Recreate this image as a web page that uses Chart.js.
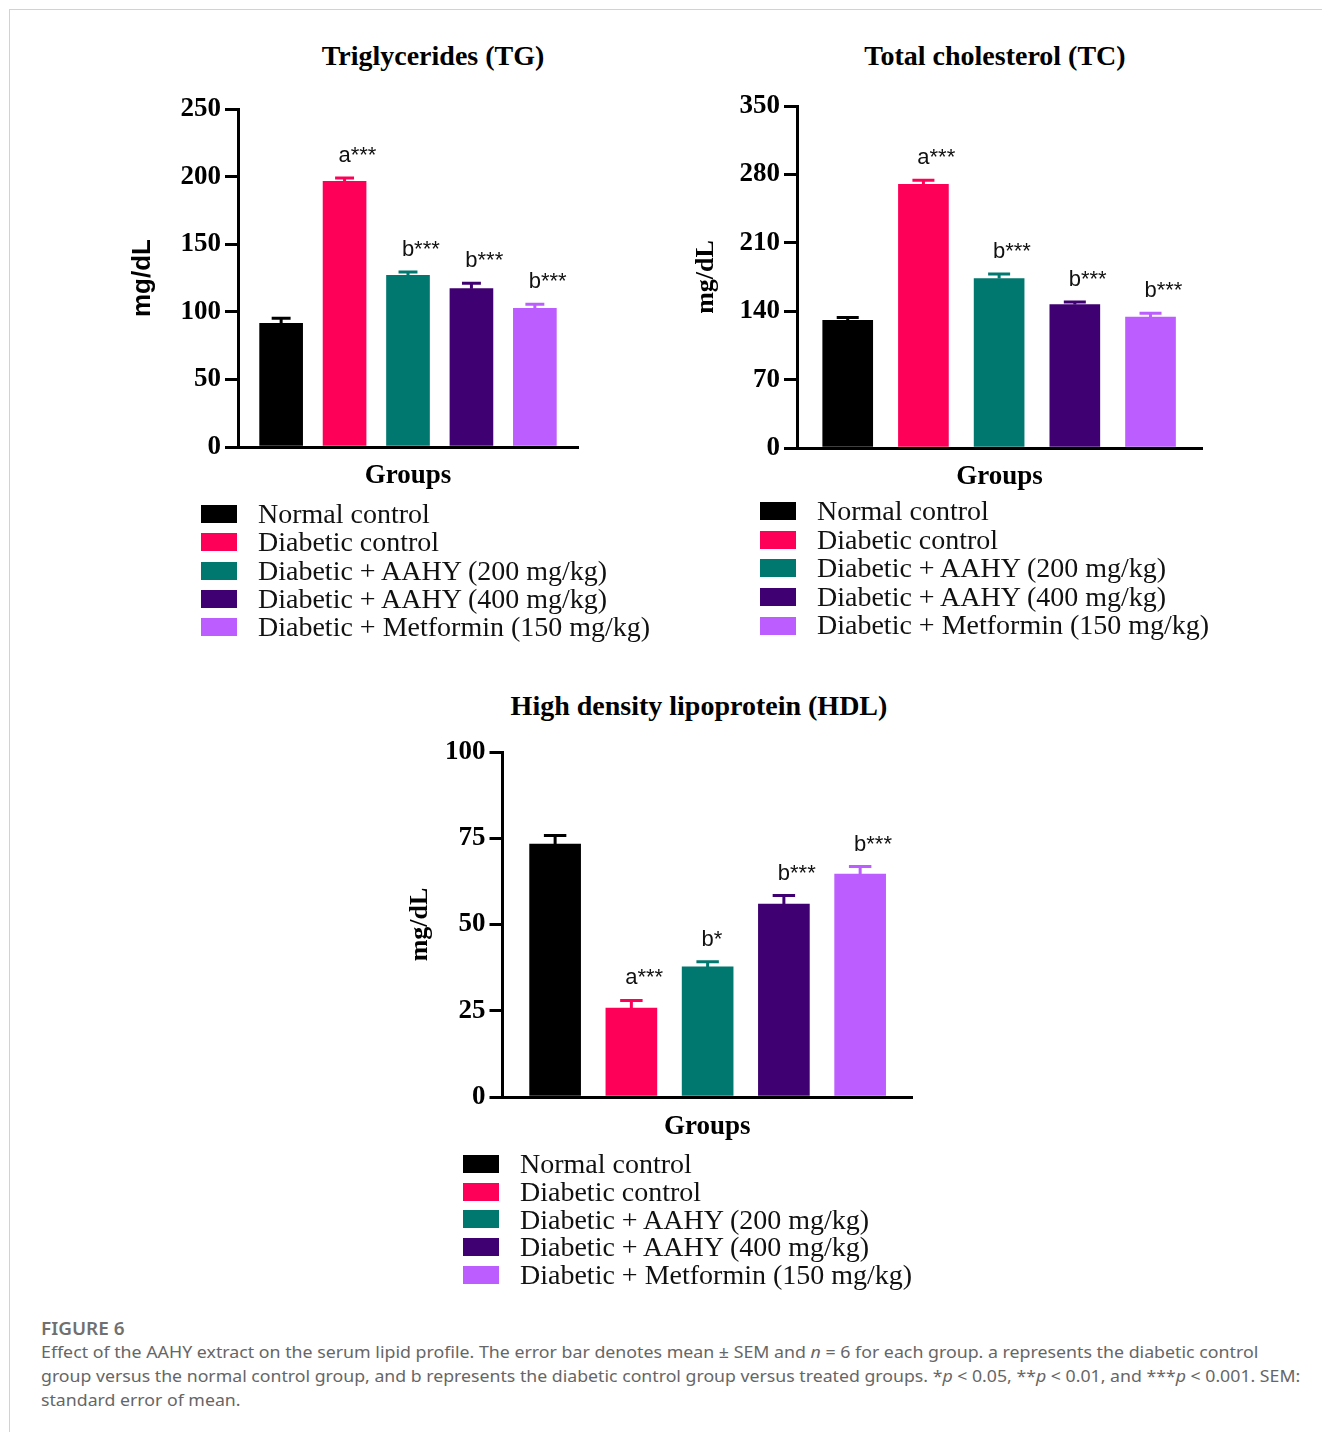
<!DOCTYPE html>
<html>
<head>
<meta charset="utf-8">
<title>Figure 6 - serum lipid profile</title>
<script src="https://cdn.jsdelivr.net/npm/chart.js@4.4.1/dist/chart.umd.min.js"></script>
<style>
  body { margin: 0; width: 1322px; height: 1432px; background: #fff; position: relative; overflow: hidden; }
  .frame { position: absolute; left: 9px; top: 9px; width: 2000px; height: 2000px;
           border-top: 1px solid #d2d2d2; border-left: 1px solid #d2d2d2; }
  canvas { position: absolute; }
  .panel-title { position: absolute; width: 600px; text-align: center; white-space: nowrap;
                 font: bold 28px "Liberation Serif"; line-height: 28px; color: #000; }
  .legend { position: absolute; font-family: "Liberation Serif"; font-size: 28px; color: #111; }
  .legend .row { display: flex; align-items: center; white-space: nowrap; }
  .legend .sw { width: 36px; height: 18px; flex: none; }
  .cap { position: absolute; left: 41px; white-space: nowrap; transform-origin: left center;
         font-family: "Noto Sans"; color: #666; }
  .cap.head { font-size: 18px; font-weight: 600; color: #707070; line-height: 24px; }
  .cap.line { font-size: 17px; line-height: 24px; }
</style>
</head>
<body>
<div class="frame"></div>

<div class="panel-title" style="left:133px; top:42px;">Triglycerides (TG)</div>
<div class="panel-title" style="left:695px; top:42px;">Total cholesterol (TC)</div>
<div class="panel-title" style="left:399px; top:692px;">High density lipoprotein (HDL)</div>

<canvas id="tg" width="560" height="470" style="left:100px; top:40px;"></canvas>
<canvas id="tc" width="560" height="470" style="left:680px; top:40px;"></canvas>
<canvas id="hdl" width="560" height="470" style="left:380px; top:690px;"></canvas>

<div class="legend" id="leg-tg" style="left:201px; top:500px;"></div>
<div class="legend" id="leg-tc" style="left:760px; top:497px;"></div>
<div class="legend" id="leg-hdl" style="left:463px; top:1150px;"></div>

<div class="cap head" data-w="83" style="top:1316px;">FIGURE 6</div>
<div class="cap line" data-w="1217" style="top:1340px;">Effect of the AAHY extract on the serum lipid profile. The error bar denotes mean ± SEM and <i>n</i> = 6 for each group. a represents the diabetic control</div>
<div class="cap line" data-w="1259" style="top:1364px;">group versus the normal control group, and b represents the diabetic control group versus treated groups. *<i>p</i> &lt; 0.05, **<i>p</i> &lt; 0.01, and ***<i>p</i> &lt; 0.001. SEM:</div>
<div class="cap line" data-w="200" style="top:1388px;">standard error of mean.</div>

<script>
// groups shared by all three panels
const groups = ['Normal control', 'Diabetic control', 'Diabetic + AAHY (200 mg/kg)',
                'Diabetic + AAHY (400 mg/kg)', 'Diabetic + Metformin (150 mg/kg)'];
const groupColors = ['#000000', '#ff0059', '#00786f', '#3f0071', '#bc5dff'];

// Triglycerides
const tgMean = [91.5, 196.5, 127.0, 117.1, 102.6];
const tgSem = [3.7, 2.5, 2.4, 4.0, 3.0];
const tgMarks = ['', 'a***', 'b***', 'b***', 'b***'];
const tgTicks = [0, 50, 100, 150, 200, 250];

// Total cholesterol
const tcMean = [130.7, 269.9, 173.4, 146.8, 134.1];
const tcSem = [2.8, 4.0, 4.7, 2.6, 3.8];
const tcMarks = ['', 'a***', 'b***', 'b***', 'b***'];
const tcTicks = [0, 70, 140, 210, 280, 350];

// HDL
const hdlMean = [73.3, 25.8, 37.7, 55.9, 64.6];
const hdlSem = [2.5, 2.2, 1.5, 2.5, 2.2];
const hdlMarks = ['', 'a***', 'b*', 'b***', 'b***'];
const hdlTicks = [0, 25, 50, 75, 100];

Chart.defaults.font.family = 'Liberation Serif';
Chart.defaults.color = '#000';

// SEM whiskers (upper half only) and significance letters
function semPlugin(mean, sem, marks) {
  return {
    id: 'semBars',
    afterDatasetsDraw(chart) {
      const ctx = chart.ctx;
      const y = chart.scales.y;
      const meta = chart.getDatasetMeta(0);
      ctx.save();
      mean.forEach((m, i) => {
        const bar = meta.data[i];
        const cx = bar.x;
        const yTop = y.getPixelForValue(m);
        const yCap = y.getPixelForValue(m + sem[i]);
        const half = bar.width * 0.22;
        ctx.strokeStyle = groupColors[i];
        ctx.lineWidth = 3;
        ctx.beginPath();
        ctx.moveTo(cx, yTop);
        ctx.lineTo(cx, yCap);
        ctx.moveTo(cx - half, yCap);
        ctx.lineTo(cx + half, yCap);
        ctx.stroke();
        if (marks[i]) {
          ctx.font = '22px "Liberation Sans"';
          ctx.fillStyle = '#111';
          ctx.textAlign = 'left';
          ctx.textBaseline = 'alphabetic';
          const lw = ctx.measureText(marks[i][0]).width;
          ctx.fillText(marks[i], cx - lw / 2, yCap - 16);
        }
      });
      ctx.restore();
    }
  };
}

function makePanel(id, mean, sem, marks, ticks, lay) {
  return new Chart(document.getElementById(id), {
    type: 'bar',
    data: {
      datasets: [{
        data: mean.map((v, i) => ({ x: i, y: v })),
        backgroundColor: groupColors,
        borderWidth: 0,
        barThickness: lay.barW
      }]
    },
    options: {
      responsive: false,
      animation: false,
      devicePixelRatio: 1,
      layout: { padding: lay.pad },
      plugins: { legend: { display: false }, tooltip: { enabled: false } },
      scales: {
        x: {
          type: 'linear',
          min: lay.xMin,
          max: lay.xMax,
          offset: false,
          afterFit: s => { s.height = lay.xH; },
          ticks: { display: false },
          grid: { display: false },
          border: { display: true, width: 3, color: '#000' },
          title: { display: true, text: 'Groups', color: '#000', padding: 0,
                   font: { family: 'Liberation Serif', weight: 'bold', size: 27, lineHeight: 1 } }
        },
        y: {
          min: ticks[0],
          max: ticks[ticks.length - 1],
          afterFit: s => { s.width = lay.yW; },
          afterBuildTicks: s => { s.ticks = ticks.map(v => ({ value: v })); },
          ticks: { color: '#000', padding: 4,
                   font: { family: 'Liberation Serif', weight: 'bold', size: 27 } },
          grid: { drawOnChartArea: false, drawTicks: true, tickLength: 13,
                  lineWidth: 3, tickWidth: 3, color: '#000', tickColor: '#000' },
          border: { display: true, width: 3, color: '#000' },
          title: { display: true, text: 'mg/dL', color: '#000', padding: 0,
                   font: { family: lay.yFont, weight: 'bold', size: 26, lineHeight: 1 } }
        }
      }
    },
    plugins: [semPlugin(mean, sem, marks)]
  });
}

makePanel('tg', tgMean, tgSem, tgMarks, tgTicks, {
  barW: 43, xMin: -0.68, xMax: 4.68, yW: 108, xH: 42.5, yFont: 'Liberation Sans',
  pad: { left: 30, right: 82, top: 69, bottom: 20.5 }
});
makePanel('tc', tcMean, tcSem, tcMarks, tcTicks, {
  barW: 50, xMin: -0.67, xMax: 4.68, yW: 104, xH: 42.5, yFont: 'Liberation Serif',
  pad: { left: 13, right: 38, top: 66, bottom: 19.5 }
});
makePanel('hdl', hdlMean, hdlSem, hdlMarks, hdlTicks, {
  barW: 51, xMin: -0.69, xMax: 4.68, yW: 95.5, xH: 43.5, yFont: 'Liberation Serif',
  pad: { left: 27, right: 28, top: 62, bottom: 19.5 }
});

// legends below each panel
function makeLegend(id, rowH, gap) {
  const el = document.getElementById(id);
  groups.forEach((g, i) => {
    const row = document.createElement('div');
    row.className = 'row';
    row.style.height = rowH + 'px';
    row.style.lineHeight = rowH + 'px';
    const sw = document.createElement('span');
    sw.className = 'sw';
    sw.style.background = groupColors[i];
    sw.style.marginRight = gap + 'px';
    const tx = document.createElement('span');
    tx.textContent = g;
    row.appendChild(sw);
    row.appendChild(tx);
    el.appendChild(row);
  });
}
makeLegend('leg-tg', 28.3, 21);
makeLegend('leg-tc', 28.6, 21);
makeLegend('leg-hdl', 27.8, 21);

// squeeze caption lines to the widths in the figure
document.querySelectorAll('.cap').forEach(el => {
  const w = el.scrollWidth;
  el.style.transform = 'scaleX(' + (Number(el.dataset.w) / w) + ')';
});
</script>
</body>
</html>
